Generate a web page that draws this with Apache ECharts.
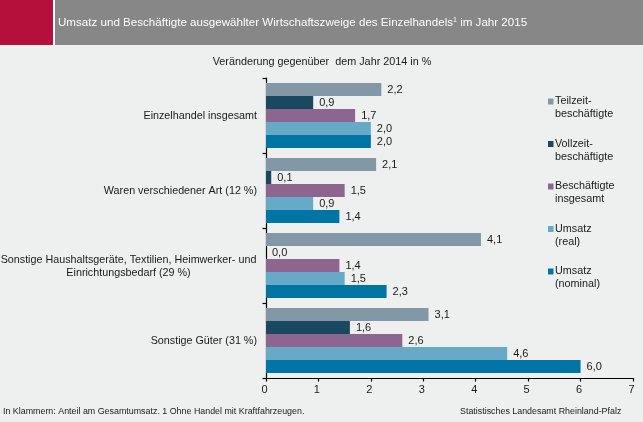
<!DOCTYPE html>
<html><head><meta charset="utf-8">
<style>html,body{margin:0;padding:0;background:#EEEFEF}#c{width:643px;height:422px}</style>
<script src="https://cdn.jsdelivr.net/npm/echarts@6/dist/echarts.min.js"></script>
</head><body><div id="c"></div>
<script>
const categories = ['Einzelhandel insgesamt','Waren verschiedener Art (12 %)','Sonstige Haushaltsgeräte, Textilien, Heimwerker- und\nEinrichtungsbedarf (29 %)','Sonstige Güter (31 %)'];
const teilzeit = [2.2,2.1,4.1,3.1];
const vollzeit = [0.9,0.1,0.0,1.6];
const beschaeftigte = [1.7,1.5,1.4,2.6];
const umsatzReal = [2.0,0.9,1.5,4.6];
const umsatzNominal = [2.0,1.4,2.3,6.0];
const seriesNames = ['Teilzeit-\nbeschäftigte','Vollzeit-\nbeschäftigte','Beschäftigte\ninsgesamt','Umsatz\n(real)','Umsatz\n(nominal)'];
const seriesColors = ['#8298A6','#1A4861','#8C668F','#66AAC8','#0074A5'];
const seriesValues = [teilzeit,vollzeit,beschaeftigte,umsatzReal,umsatzNominal];
const FONT = '"Liberation Sans", Arial, sans-serif';
const TXT = '#1a1a1a';
const chart = echarts.init(document.getElementById('c'),null,{renderer:'canvas'});
chart.setOption({
  animation:false,
  backgroundColor:'#EEEFEF',
  textStyle:{fontFamily:FONT},
  grid:{left:266,right:10,top:78,bottom:44,containLabel:false,outerBoundsMode:'none'},
  xAxis:{type:'value',min:0,max:7,interval:1,position:'bottom',
    axisLine:{show:true,lineStyle:{color:'#000',width:1.2}},
    axisTick:{show:true,length:3.5,lineStyle:{color:'#000',width:1.2}},
    splitLine:{show:false},
    axisLabel:{color:TXT,fontSize:11,fontFamily:FONT,margin:6,padding:[0,3,0,0]}},
  yAxis:{type:'category',inverse:true,data:categories,
    axisLine:{show:true,onZero:false,lineStyle:{color:'#000',width:1.2}},
    axisTick:{show:true,length:3.5,alignWithLabel:false,lineStyle:{color:'#000',width:1.2}},
    axisLabel:{color:TXT,fontSize:10.75,fontFamily:FONT,margin:9,lineHeight:13,padding:[2,0,0,0],
      formatter:v=>v.includes('\n')?v.split('\n').map(l=>'{c|'+l+'}').join('\n'):v,
      rich:{c:{width:257,align:'center',fontSize:10.75,lineHeight:13,color:TXT,fontFamily:FONT}}},
  },
  legend:{orient:'vertical',left:543,top:77,itemWidth:5.5,itemHeight:6,itemGap:3.5,
    icon:'rect',
    data:seriesNames,
    formatter:n=>'\n'+n,
    textStyle:{color:TXT,fontSize:10.8,fontFamily:FONT,lineHeight:13,padding:[0,0,0,-3.5]},
    selectedMode:false},
  series:seriesNames.map((n,i)=>({
    name:n,type:'bar',data:seriesValues[i],
    barGap:0,barCategoryGap:'13.3%',
    itemStyle:{color:seriesColors[i]},
    label:{show:true,position:'right',distance:6,color:TXT,fontSize:11,fontFamily:FONT,padding:[2,0,0,0],
      formatter:p=>p.value.toFixed(1).replace('.',',')}
  })),
  graphic:[
    {type:'rect',silent:true,z:10,shape:{x:0,y:0,width:53,height:45},style:{fill:'#B5103C'}},
    {type:'rect',silent:true,z:10,shape:{x:53,y:0,width:2,height:45},style:{fill:'#FFFFFF'}},
    {type:'rect',silent:true,z:10,shape:{x:55,y:0,width:588,height:45},style:{fill:'#878787'}},
    {type:'text',silent:true,z:11,x:58,y:23,style:{
      text:'Umsatz und Beschäftigte ausgewählter Wirtschaftszweige des Einzelhandels{s|1} im Jahr 2015',
      fill:'#fff',font:'11.6px '+FONT,verticalAlign:'middle',
      rich:{s:{fontSize:7,verticalAlign:'top',fill:'#fff',padding:[0,0,5,0]}}}},
    {type:'text',silent:true,x:322,y:62,style:{text:'Veränderung gegenüber  dem Jahr 2014 in %',fill:TXT,font:'10.8px '+FONT,align:'center',verticalAlign:'middle'}},
    {type:'text',silent:true,x:3,y:412,style:{text:'In Klammern: Anteil am Gesamtumsatz. 1 Ohne Handel mit Kraftfahrzeugen.',fill:TXT,font:'8.9px '+FONT,verticalAlign:'middle'}},
    {type:'text',silent:true,x:460,y:412,style:{text:'Statistisches Landesamt Rheinland-Pfalz',fill:TXT,font:'8.9px '+FONT,verticalAlign:'middle'}}
  ]
});
</script></body></html>
